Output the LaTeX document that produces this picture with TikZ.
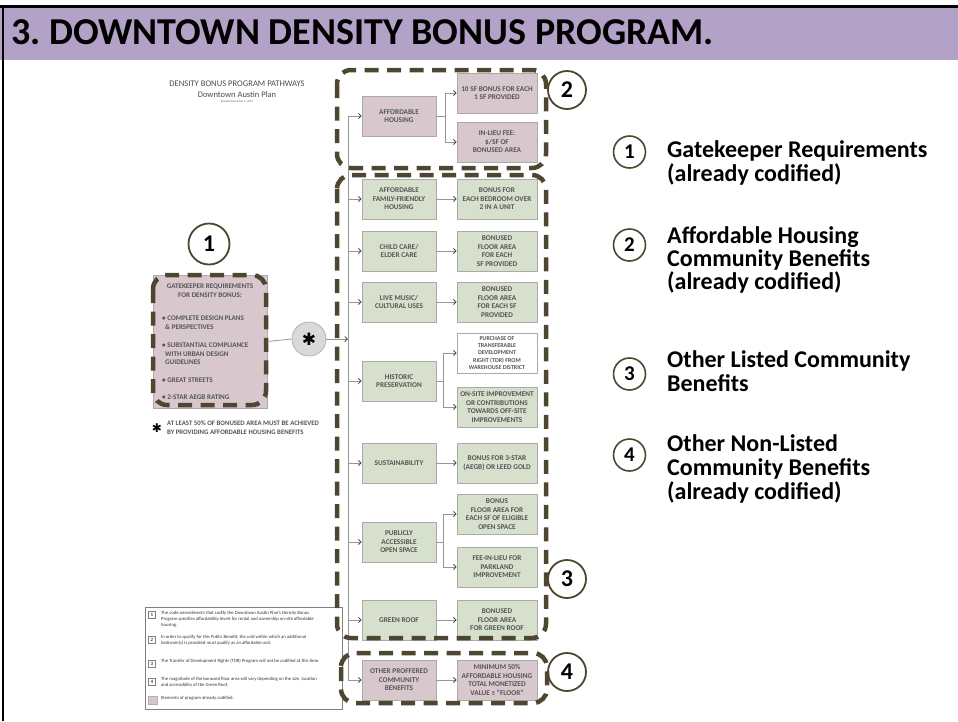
\documentclass[tikz,border=0pt]{standalone}
\usepackage{fontspec}
\setmainfont{Carlito}
\newfontfamily\djv{DejaVu Sans}
\usetikzlibrary{arrows.meta}
\definecolor{hdr}{RGB}{179,162,199}
\definecolor{pinkc}{RGB}{216,200,206}
\definecolor{greenc}{RGB}{214,224,204}
\definecolor{dashc}{RGB}{77,70,48}
\definecolor{txtc}{RGB}{85,85,85}
\definecolor{linec}{RGB}{150,150,150}
\definecolor{edgec}{RGB}{170,170,170}
\begin{document}
\frenchspacing
\begin{tikzpicture}[x=1pt,y=-1pt,
  box/.style={rectangle, draw=edgec, line width=0.7pt, minimum height=40pt, inner sep=0.5pt, align=center, text=txtc, font=\fontsize{7.3}{8.6}\selectfont\bfseries},
  lbox/.style={box, minimum width=74pt},
  rbox/.style={box, minimum width=80pt},
  pk/.style={fill=pinkc},
  gn/.style={fill=greenc},
  wt/.style={fill=white, font=\fontsize{6}{7.1}\selectfont\bfseries},
  grp/.style={draw=dashc, line width=4.5pt, dash pattern=on 14pt off 8.5pt, rounded corners=14pt},
  numc/.style={circle, draw=dashc, line width=1.8pt, minimum size=38pt, inner sep=0pt, font=\fontsize{24}{24}\selectfont\bfseries},
  nums/.style={numc, minimum size=32pt, line width=1.6pt, font=\fontsize{21}{21}\selectfont\bfseries},
  plain/.style={draw=linec, line width=0.8pt},
  conn/.style={plain, -{Straight Barb[length=2.6pt,width=5pt,line width=0.9pt,color=black!70]}},
  leg/.style={font=\fontsize{24}{24}\selectfont\bfseries, anchor=base west, inner sep=0pt},
  tiny/.style={font=\fontsize{4.7}{5.9}\selectfont, text=black!80, align=left, anchor=west, inner sep=0pt},
  gkt/.style={font=\fontsize{7.1}{8.6}\selectfont\bfseries, text=txtc, align=left, anchor=west, inner sep=0pt}
]
\useasboundingbox (0,0) rectangle (958,721);
% header
\fill[hdr] (0,7.5) rectangle (958,60);
\fill[black] (0,5) rectangle (958,7.5);
\fill[black] (1.5,5) rectangle (4,721);
\node[anchor=base west, inner sep=0pt, font=\fontsize{38}{38}\selectfont\bfseries] (title) at (11,44) {3. DOWNTOWN DENSITY BONUS PROGRAM.};

% document title
\node[font=\fontsize{8.6}{8.6}\selectfont, text=black!70, inner sep=0pt] (t1) at (237,84) {DENSITY BONUS PROGRAM PATHWAYS};
\node[font=\fontsize{8.5}{8.5}\selectfont, text=black!70, inner sep=0pt] (t2) at (237,95) {Downtown Austin Plan};
\node[font=\fontsize{3}{3}\selectfont, text=black!60, inner sep=0pt] (t3) at (237,101.5) {Revised December 6, 2013};

% gatekeeper
\node[rectangle, fill=pinkc, draw=edgec, line width=0.7pt, minimum width=114pt, minimum height=133pt] (gk) at (210,341.5) {};
\node[gkt, align=center, anchor=center] (gkh) at (210,290.5) {GATEKEEPER REQUIREMENTS\\FOR DENSITY BONUS:};
\node[gkt] (gb1) at (162,322.5) {• COMPLETE DESIGN PLANS\\\hspace*{3pt}\& PERSPECTIVES};
\node[gkt] (gb2) at (162,354) {• SUBSTANTIAL COMPLIANCE\\\hspace*{3pt}WITH URBAN DESIGN\\\hspace*{3pt}GUIDELINES};
\node[gkt] (gb3) at (162,380) {• GREAT STREETS};
\node[gkt] (gb4) at (162,397) {• 2-STAR AEGB RATING};
\draw[grp] (153,275) rectangle (266,405);
\node[numc, minimum size=41pt] (c1) at (209,244) {1};

% star note
\node[font=\djv\fontsize{12}{12}\selectfont, inner sep=0pt] (snote) at (157,428) {✱};
\node[font=\fontsize{6.8}{8.8}\selectfont\bfseries, text=txtc, align=left, anchor=west, inner sep=0pt] (snotet) at (167,428) {AT LEAST 50\% OF BONUSED AREA MUST BE ACHIEVED\\BY PROVIDING AFFORDABLE HOUSING BENEFITS};

% star circle
\node[circle, fill=black!15, draw=black!30, line width=0.8pt, minimum size=34pt, inner sep=0pt, font=\djv\fontsize{17}{17}\selectfont] (star) at (309,339) {✱};
\coordinate (sp) at (348,0);

% left column
\node[lbox, pk] (ah) at (399,116) {AFFORDABLE\\HOUSING};
\node[lbox, gn] (ff) at (399,199) {AFFORDABLE\\FAMILY-FRIENDLY\\HOUSING};
\node[lbox, gn] (cc) at (399,251) {CHILD CARE/\\ELDER CARE};
\node[lbox, gn] (lm) at (399,302) {LIVE MUSIC/\\CULTURAL USES};
\node[lbox, gn] (hp) at (399,381) {HISTORIC\\PRESERVATION};
\node[lbox, gn] (su) at (399,463) {SUSTAINABILITY};
\node[lbox, gn] (os) at (399,542) {PUBLICLY\\ACCESSIBLE\\OPEN SPACE};
\node[lbox, gn] (gr) at (399,620) {GREEN ROOF};
\node[lbox, pk] (op) at (399,680) {OTHER PROFFERED\\COMMUNITY\\BENEFITS};

% right column
\node[rbox, pk] (ah1) at (497,93) {10 SF BONUS FOR EACH\\1 SF PROVIDED};
\node[rbox, pk] (ah2) at (497,142) {IN-LIEU FEE:\\\$/SF OF\\BONUSED AREA};
\node[rbox, gn] (ff1) at (497,199) {BONUS FOR\\EACH BEDROOM OVER\\2 IN A UNIT};
\node[rbox, gn] (cc1) at (497,251) {BONUSED\\FLOOR AREA\\FOR EACH\\SF PROVIDED};
\node[rbox, gn] (lm1) at (497,302) {BONUSED\\FLOOR AREA\\FOR EACH SF\\PROVIDED};
\node[rbox, wt] (hp1) at (497,353) {PURCHASE OF\\TRANSFERABLE\\DEVELOPMENT\\RIGHT (TDR) FROM\\WAREHOUSE DISTRICT};
\node[rbox, gn] (hp2) at (497,407) {ON-SITE IMPROVEMENT\\OR CONTRIBUTIONS\\TOWARDS OFF-SITE\\IMPROVEMENTS};
\node[rbox, gn] (su1) at (497,463) {BONUS FOR 3-STAR\\(AEGB) OR LEED GOLD};
\node[rbox, gn] (os1) at (497,514) {BONUS\\FLOOR AREA FOR\\EACH SF OF ELIGIBLE\\OPEN SPACE};
\node[rbox, gn] (os2) at (497,567) {FEE-IN-LIEU FOR\\PARKLAND\\IMPROVEMENT};
\node[rbox, gn] (gr1) at (497,620) {BONUSED\\FLOOR AREA\\FOR GREEN ROOF};
\node[rbox, pk] (op1) at (497,680) {MINIMUM 50\%\\AFFORDABLE HOUSING\\TOTAL MONETIZED\\VALUE ≥ “FLOOR”};

% connectors
\draw[plain] (gk.east) -- (star.west);
\draw[conn] (star.east) -- (star.east -| sp);
\draw[plain] (sp |- ah.west) -- (sp |- op.west);
\foreach \n in {ah,ff,cc,lm,hp,su,os,gr,op}
  \draw[conn] (sp |- \n.west) -- (\n.west);
\draw[conn] (ah.east) -- ++(9,0) |- (ah1.west);
\draw[conn] (ah.east) -- ++(9,0) |- (ah2.west);
\draw[conn] (ff.east) -- (ff1.west);
\draw[conn] (cc.east) -- (cc1.west);
\draw[conn] (lm.east) -- (lm1.west);
\draw[conn] (hp.east) -- ++(7,0) |- (hp1.west);
\draw[conn] (hp.east) -- ++(7,0) |- (hp2.west);
\draw[conn] (su.east) -- (su1.west);
\draw[conn] (os.east) -- ++(7,0) |- (os1.west);
\draw[conn] (os.east) -- ++(7,0) |- (os2.west);
\draw[conn] (gr.east) -- (gr1.west);
\draw[conn] (op.east) -- (op1.west);

% legend box
\node[draw=black!50, line width=0.8pt, minimum width=197pt, minimum height=102pt, anchor=north west, inner sep=0pt] (legend) at (145,607) {};
\begin{scope}
\clip (145,607) rectangle (342,709);
\foreach \k/\yy in {1/615, 2/640, 3/664, 4/682}
  \node[draw=black!50, line width=0.5pt, minimum size=7pt, inner sep=0pt, font=\fontsize{5}{5}\selectfont] (sq\k) at (152,\yy) {\k};
\node[tiny] (n1) at (161,619) {The code amendments that codify the Downtown Austin Plan's Density Bonus\\Program specifies affordability levels for rental and ownership on-site affordable\\housing.};
\node[tiny] (n2) at (161,640.5) {In order to qualify for this Public Benefit, the unit within which an additional\\bedroom(s) is provided must qualify as an affordable unit.};
\node[tiny] (n3) at (161,661) {The Transfer of Development Rights (TDR) Program will not be codified at this time.};
\node[tiny] (n4) at (161,682) {The magnitude of the bonused floor area will vary depending on the size, location\\and accessibility of the Green Roof.};
\node[fill=pinkc, draw=black!30, minimum width=9pt, minimum height=8pt, inner sep=0pt] (sw) at (153,700) {};
\node[tiny] (n5) at (161,698) {Elements of program already codified.};
\end{scope}

% dashed groups
\draw[grp] (337,70) rectangle (546,168);
\draw[grp] (337,175) rectangle (546,638);
\draw[grp] (341,653) rectangle (547,703);
\node[numc] (c2) at (567,90) {2};
\node[numc] (c3) at (567,579) {3};
\node[numc] (c4) at (567,672) {4};

% right legend
\node[nums] (r1) at (629.5,152) {1};
\node[nums] (r2) at (629.5,245) {2};
\node[nums] (r3) at (629.5,374) {3};
\node[nums] (r4) at (629.5,455) {4};
\node[leg] (l1a) at (667,157) {Gatekeeper Requirements};
\node[leg] (l1b) at (667,181) {(already codified)};
\node[leg] (l2a) at (667,243) {Affordable Housing};
\node[leg] (l2b) at (667,266) {Community Benefits};
\node[leg] (l2c) at (667,289) {(already codified)};
\node[leg] (l3a) at (667,367) {Other Listed Community};
\node[leg] (l3b) at (667,391) {Benefits};
\node[leg] (l4a) at (667,451) {Other Non-Listed};
\node[leg] (l4b) at (667,475) {Community Benefits};
\node[leg] (l4c) at (667,499) {(already codified)};
\end{tikzpicture}
\end{document}
